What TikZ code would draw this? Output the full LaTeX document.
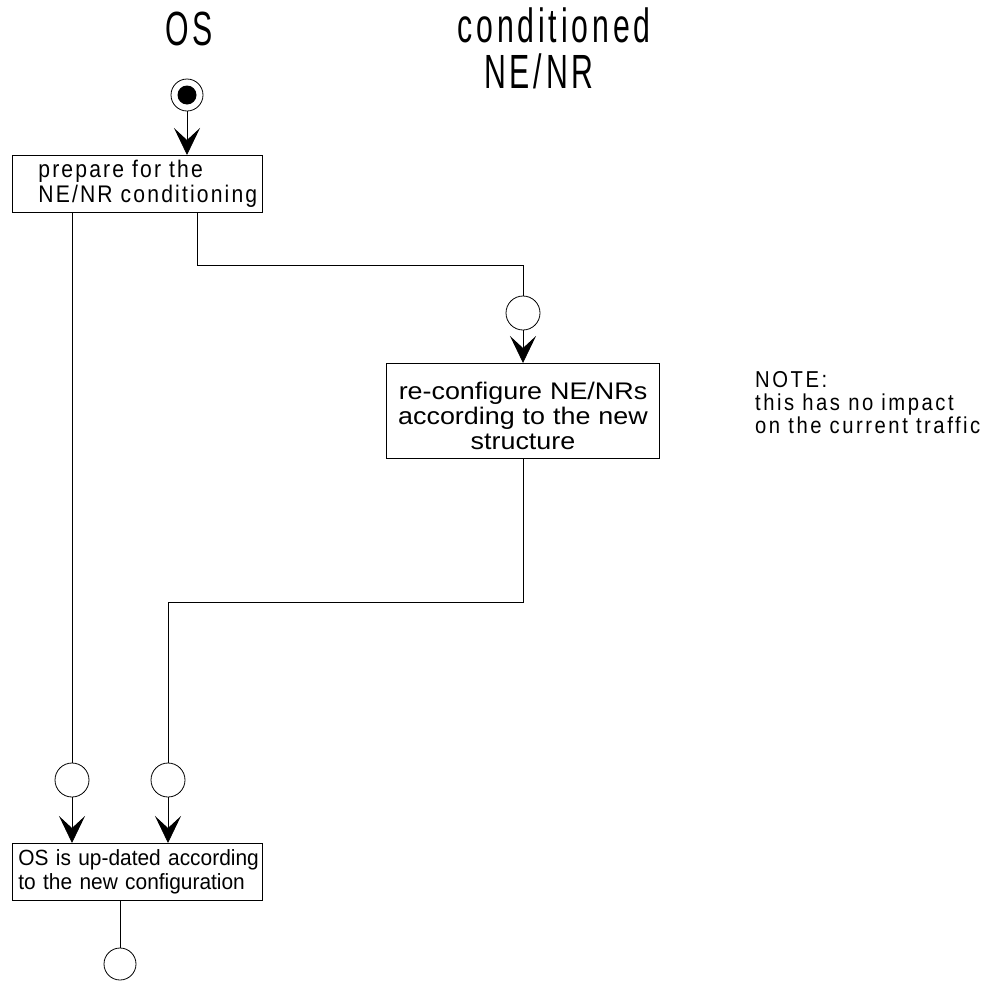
\documentclass[tikz,border=0pt]{standalone}
\usepackage{fontspec}
\setmainfont{Liberation Sans}
\newfontfamily\spacedfont[LetterSpace=9,FakeStretch=0.88]{Liberation Sans}
\newfontfamily\notefont[LetterSpace=11,FakeStretch=0.88]{Liberation Sans}
\newfontfamily\titlefont[LetterSpace=8,FakeStretch=0.63]{Liberation Sans}
\newfontfamily\wideboxfont[FakeStretch=1.12]{Liberation Sans}
\newfontfamily\narrowboxfont[FakeStretch=0.95]{Liberation Sans}
\usetikzlibrary{arrows.meta}
\begin{document}
\begin{tikzpicture}[x=1pt,y=-1pt,
  lw/.style={line width=0.8pt},
  box/.style={draw, lw, rectangle, inner ysep=0pt},
  circ/.style={draw, lw, circle, minimum size=34pt, inner sep=0pt},
  dot/.style={circle, fill=black, minimum size=19pt, inner sep=0pt},
  arr/.style={lw, -{Stealth[length=27pt,width=26pt,inset=12pt]}},
  conn/.style={lw},
  title/.style={font=\titlefont\fontsize{48}{50}\selectfont, inner sep=0pt, anchor=base},
  spaced/.style={font=\spacedfont\fontsize{24}{25}\selectfont},
  notestyle/.style={font=\notefont\fontsize{23}{23}\selectfont},
  plainA/.style={font=\wideboxfont\fontsize{24}{25}\selectfont},
  plainB/.style={font=\narrowboxfont\fontsize{22}{24}\selectfont}
]
\useasboundingbox (0,0) rectangle (998,980);

% titles
\node[title] (tos) at (189,45) {OS};
\node[title] (tcond) at (554,42) {conditioned};
\node[title] (tnenr) at (539,88) {NE/NR};

% start
\node[circ, minimum size=32pt] (s) at (187,95) {};
\node[dot] (sdot) at (s.center) {};

% box 1
\node[box, spaced, anchor=north west, minimum width=250pt, minimum height=57pt,
      text width=248pt, inner xsep=1pt, align=left] (b1) at (12,155)
  {\hspace*{25pt}prepare for the\\\hspace*{25pt}NE/NR conditioning};

% circle 2 and box 2
\node[circ] (c2) at (523,313) {};
\node[box, plainA, anchor=north, minimum width=273pt, minimum height=95pt,
      text width=271pt, inner xsep=1pt, align=center] (b2) at (523,363)
  {\rule{0pt}{27pt}re-configure NE/NRs\\according to the new\\structure};

% note
\node[notestyle, anchor=north west, inner sep=0pt, align=left] (note) at (755,371)
  {NOTE:\\this has no impact\\on the current traffic};

% lower circles
\node[circ] (cL) at (72,780) {};
\node[circ] (cR) at (168,780) {};

% box 3
\node[box, plainB, anchor=north west, minimum width=250pt, minimum height=57pt,
      text width=248pt, inner xsep=1pt, align=left] (b3) at (12,843)
  {\hspace*{5pt}OS is up-dated according\\\hspace*{5pt}to the new configuration};

% end circle
\node[circ, minimum size=32pt] (cE) at (120,964) {};

% connectors
\coordinate (k1) at (197,265);
\coordinate (k2) at (168,602);

\draw[arr] (s) -- (s |- b1.north);
\draw[conn] (cL |- b1.south) -- (cL);
\draw[conn] (k1 |- b1.south) -- (k1) -| (c2);
\draw[arr] (c2) -- (b2);
\draw[conn] (b2.south) |- (k2) -- (cR);
\draw[arr] (cL) -- (cL |- b3.north);
\draw[arr] (cR) -- (cR |- b3.north);
\draw[conn] (cE |- b3.south) -- (cE);
\end{tikzpicture}
\end{document}
